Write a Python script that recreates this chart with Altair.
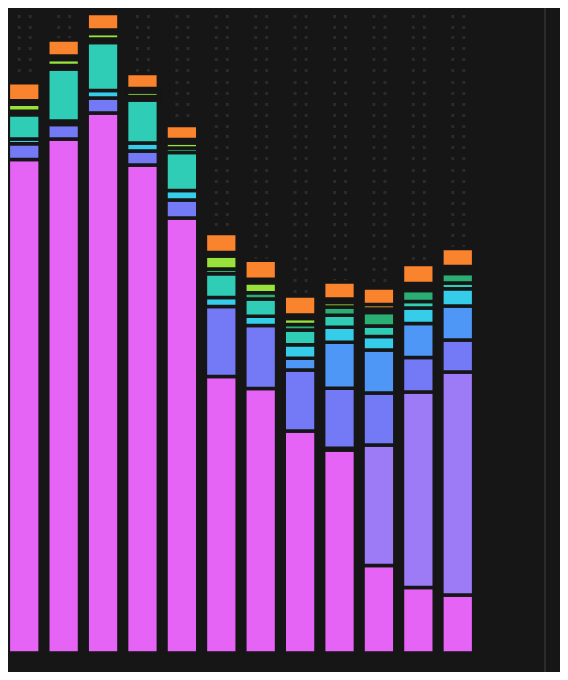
import altair as alt
import pandas as pd

# categories (12 stacked bars, left to right)
bars = ["01", "02", "03", "04", "05", "06", "07", "08", "09", "10", "11", "12"]

# series, bottom of stack to top
series = ["S1", "S2", "S3", "S4", "S5", "S6", "S7", "S8", "S9", "S10"]
colors = ["#e563f5", "#9d7af6", "#7479f5", "#4f97f6", "#36cdea",
          "#2fcdb6", "#2aae73", "#97e23b", "#f7b032", "#fa832d"]

s1 = [493.5, 514, 540, 488, 435, 276.5, 264.5, 222, 203, 87.5, 65.5, 58]
s2 = [0, 0, 0, 0, 0, 0, 0, 0, 1.8, 120.5, 195.5, 223]
s3 = [15.7, 14.5, 15, 14, 18, 70, 63, 61, 60, 52, 34.5, 32]
s4 = [0, 0, 0, 0, 0, 0, 0, 11.7, 46, 43, 34, 34]
s5 = [4.7, 3.5, 7.4, 8, 9.5, 9, 9.3, 13.5, 15, 13.5, 15.5, 17.3]
s6 = [24.3, 52, 48, 43, 38, 23.7, 17.2, 14.8, 12, 10.5, 6.5, 5.7]
s7 = [3.5, 3.5, 3.5, 3.5, 4.5, 4.7, 6.3, 5.5, 8.2, 13.5, 11, 9.5]
s8 = [7, 6, 5.7, 4.5, 5, 13, 10, 6, 4.5, 3.5, 3.5, 3.5]
s9 = [3.5, 3.5, 3.5, 3.5, 3.5, 3.5, 3.5, 3.5, 3.5, 4.5, 3.5, 3.5]
s10 = [18, 16, 16.4, 15, 14, 19, 19, 19, 17, 16.5, 19, 18]

values = [s1, s2, s3, s4, s5, s6, s7, s8, s9, s10]

rows = []
for i, (name, vals) in enumerate(zip(series, values)):
    for b, v in zip(bars, vals):
        if v > 0:
            rows.append({"bar": b, "series": name, "idx": i, "value": v})
df = pd.DataFrame(rows)

# dotted background rows (y-axis grid positions)
grid_values = [637.5 - 11 * k for k in range(58)]

BG = "#161616"

bars_layer = alt.Chart(df).mark_bar(stroke=BG, strokeWidth=3.5).encode(
    x=alt.X("bar:O", sort=bars, axis=None,
            scale=alt.Scale(paddingInner=0.194, paddingOuter=0.009)),
    y=alt.Y("value:Q", stack="zero", title=None,
            scale=alt.Scale(domain=[0, 645], nice=False),
            axis=alt.Axis(values=grid_values, grid=True, labels=False, ticks=False,
                          domain=False, gridColor="#2b2b2b", gridWidth=3,
                          gridDash=[3, 8, 3, 25.411], gridDashOffset=30.17)),
    color=alt.Color("series:N", scale=alt.Scale(domain=series, range=colors), legend=None),
    order=alt.Order("idx:Q", sort="ascending"),
)

rule_layer = alt.Chart(pd.DataFrame({"a": [0]})).mark_rule(
    color="#2b2b2b", strokeWidth=2
).encode(x=alt.value(537), y=alt.value(0), y2=alt.value(664))

chart = alt.layer(bars_layer, rule_layer).properties(
    width=466,
    height=645,
    background=BG,
    padding={"left": 0, "top": 0, "right": 86, "bottom": 19},
    autosize=alt.AutoSizeParams(type="none"),
).configure_view(strokeWidth=0)

chart.save("out.html", embed_options={"renderer": "svg", "actions": False})
